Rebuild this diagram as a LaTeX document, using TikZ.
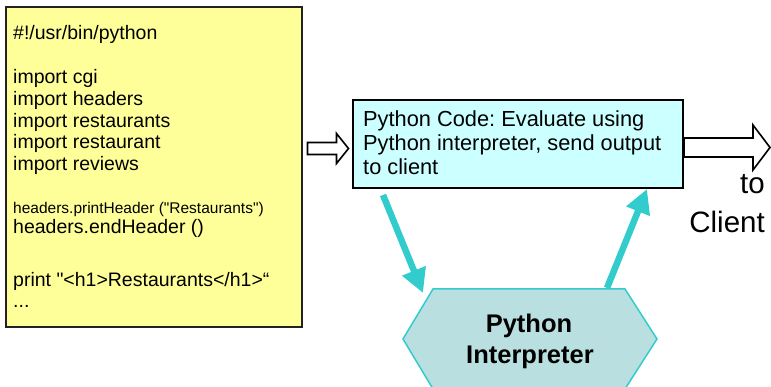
\documentclass[tikz,border=0pt]{standalone}
\usepackage{fontspec}
\setmainfont{Liberation Sans}
\usetikzlibrary{arrows.meta}
\frenchspacing
\definecolor{codeyellow}{HTML}{FFFF99}
\definecolor{evalcyan}{HTML}{CCFFFF}
\definecolor{hexfill}{HTML}{B9DFE0}
\definecolor{teal}{HTML}{33CCCC}
\definecolor{boxline}{HTML}{222222}
\tikzset{
  codeline/.style={anchor=base west, inner sep=0pt, font=\fontsize{19.5}{22}\selectfont},
  smallcode/.style={anchor=base west, inner sep=0pt, font=\fontsize{15.5}{18}\selectfont},
  evaltext/.style={anchor=base west, inner sep=0pt, font=\fontsize{21.8}{25}\selectfont},
  clienttext/.style={anchor=base east, inner sep=0pt, font=\fontsize{29.5}{32}\selectfont},
  interptext/.style={anchor=base, inner sep=0pt, font=\fontsize{25.5}{28}\selectfont\bfseries},
  hollowarrow/.style={draw=black, line width=1.6pt, fill=white, line join=miter},
  tealarrow/.style={draw=teal, line width=6.5pt, -{Triangle[width=24pt,length=24pt]}, teal},
}
\begin{document}
\begin{tikzpicture}[x=1pt,y=-1pt]
\useasboundingbox (0,0) rectangle (771,387);
\clip (0,0) rectangle (771,387);
% code box
\node[draw=boxline, line width=2pt, fill=codeyellow, minimum width=296pt, minimum height=320pt, inner sep=0pt] (code) at (153.5,167) {};
\node[codeline] (l1) at (13,40) {\#!/usr/bin/python};
\node[codeline] (l2) at (13,84) {import cgi};
\node[codeline] (l3) at (13,105.7) {import headers};
\node[codeline] (l4) at (13,127.4) {import restaurants};
\node[codeline] (l5) at (13,149) {import restaurant};
\node[codeline] (l6) at (13,170.8) {import reviews};
\node[smallcode] (l7) at (13,213.3) {headers.printHeader (\textquotedbl Restaurants\textquotedbl)};
\node[codeline] (l8) at (13,233.3) {headers.endHeader ()};
\node[codeline] (l9) at (13,286.7) {print \textquotedbl<h1>Restaurants</h1>“};
\node[codeline] (l10) at (13,308) {...};
% evaluation box
\node[draw=black, line width=2pt, fill=evalcyan, minimum width=330pt, minimum height=88pt, inner sep=0pt] (eval) at (518,144) {};
\node[evaltext] (e1) at (363,126.5) {Python Code: Evaluate using};
\node[evaltext] (e2) at (363,151) {Python interpreter, send output};
\node[evaltext] (e3) at (363,175) {to client};
% hollow arrow code -> eval
\coordinate (a1) at (code.east |- 0,148);
\draw[hollowarrow] ([xshift=5pt]a1) ++(0,-5.5) -- ++(29,0) -- ++(0,-9) -- ++(12,15) -- ++(-12,15) -- ++(0,-9) -- ++(-29,0) -- cycle;
% hollow arrow eval -> client
\coordinate (a2) at (eval.east |- 0,147.5);
\draw[hollowarrow] (a2) ++(0,-9.5) -- ++(69,0) -- ++(0,-13) -- ++(17,22.5) -- ++(-17,22.5) -- ++(0,-13) -- ++(-69,0) -- cycle;
\node[clienttext] (to) at (765,194) {to};
\node[clienttext] (client) at (765,233) {Client};
% interpreter hexagon
\draw[draw=teal, line width=1.5pt, fill=hexfill] (403,339) -- (433,289) -- (625,289) -- (657,339) -- (625,389) -- (433,389) -- cycle;
\coordinate (hexnw) at (423,293);
\coordinate (hexne) at (607,288);
\node[interptext] (interp1) at (529,332) {Python};
\node[interptext] (interp2) at (530,363) {Interpreter};
% teal arrows
\coordinate (d1) at (383,195);
\coordinate (u1) at (647,189);
\draw[tealarrow] (d1) -- (hexnw);
\draw[tealarrow] (hexne) -- (u1);
\end{tikzpicture}
\end{document}
